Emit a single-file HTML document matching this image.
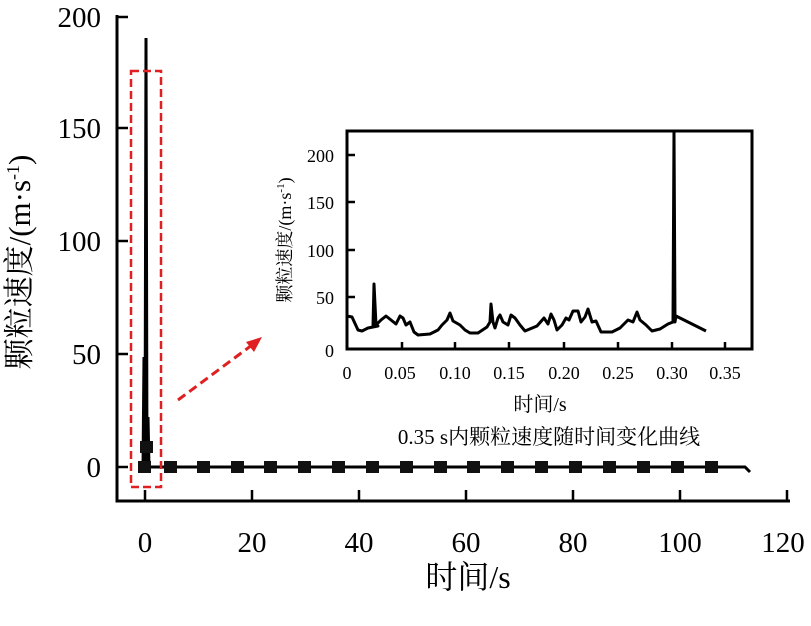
<!DOCTYPE html>
<html><head><meta charset="utf-8"><style>
body{margin:0;background:#fff}
text{font-family:"Liberation Serif","Noto Serif CJK SC",serif;fill:#000}
</style></head><body>
<svg width="811" height="621" viewBox="0 0 811 621" xmlns="http://www.w3.org/2000/svg">
<path d="M117 15 V501 H790" fill="none" stroke="#000" stroke-width="3"/>
<g stroke="#000" stroke-width="2.5">
<path d="M117 17h11M117 128h11M117 241h11M117 354h11M117 467h11"/>
<path d="M145 501v-11M252 501v-11M359 501v-11M466 501v-11M573 501v-11M680 501v-11M787 501v-11"/>
</g>
<g font-size="29" text-anchor="end">
<text x="101" y="27">200</text><text x="101" y="138">150</text><text x="101" y="251">100</text><text x="101" y="364">50</text><text x="101" y="477">0</text>
</g>
<g font-size="29" text-anchor="middle">
<text x="145" y="552">0</text><text x="252" y="552">20</text><text x="359" y="552">40</text><text x="466" y="552">60</text><text x="573" y="552">80</text><text x="680" y="552">100</text><text x="783" y="552">120</text>
</g>
<text x="468" y="588" font-size="32" text-anchor="middle">时间/s</text>
<text transform="translate(30,262) rotate(-90)" font-size="31" text-anchor="middle">颗粒速度/(m·s<tspan font-size="18" dy="-11">-1</tspan><tspan dy="11">)</tspan></text>
<path d="M140 467 L143 467 L144 357 L145 467 L146 38 L147 467 L148 417 L149 467 L745 467 L750 472" fill="none" stroke="#000" stroke-width="3"/>
<g fill="#111">
<rect x="140" y="441" width="13" height="12"/><rect x="138" y="461" width="13" height="12"/>
<rect x="164" y="461" width="13" height="12"/><rect x="197" y="461" width="13" height="12"/><rect x="231" y="461" width="13" height="12"/><rect x="264" y="461" width="13" height="12"/><rect x="298" y="461" width="13" height="12"/><rect x="332" y="461" width="13" height="12"/><rect x="366" y="461" width="13" height="12"/><rect x="400" y="461" width="13" height="12"/><rect x="434" y="461" width="13" height="12"/><rect x="467" y="461" width="13" height="12"/><rect x="501" y="461" width="13" height="12"/><rect x="535" y="461" width="13" height="12"/><rect x="569" y="461" width="13" height="12"/><rect x="603" y="461" width="13" height="12"/><rect x="637" y="461" width="13" height="12"/><rect x="671" y="461" width="13" height="12"/><rect x="705" y="461" width="13" height="12"/>
</g>
<rect x="131" y="71" width="30" height="416" fill="none" stroke="#e02020" stroke-width="2.5" stroke-dasharray="8,4"/>
<path d="M178 400 L252 345" stroke="#e02020" stroke-width="3" stroke-dasharray="9,5"/>
<path d="M262 337 L246 342 L254 352 Z" fill="#e02020"/>
<rect x="347" y="131" width="405" height="218" fill="#fff" stroke="#000" stroke-width="3"/>
<g stroke="#000" stroke-width="2.5">
<path d="M347 155h8M347 202h8M347 250h8M347 297h8"/>
<path d="M402 349v-7M455 349v-7M509 349v-7M564 349v-7M618 349v-7M672 349v-7M725 349v-7"/>
</g>
<g font-size="18" text-anchor="end">
<text x="334" y="162">200</text><text x="334" y="209">150</text><text x="334" y="257">100</text><text x="334" y="304">50</text><text x="334" y="357">0</text>
</g>
<g font-size="18" text-anchor="middle">
<text x="347" y="379">0</text><text x="400" y="379">0.05</text><text x="455" y="379">0.10</text><text x="509" y="379">0.15</text><text x="564" y="379">0.20</text><text x="618" y="379">0.25</text><text x="672" y="379">0.30</text><text x="725" y="379">0.35</text>
</g>
<text x="540" y="411" font-size="20" text-anchor="middle">时间/s</text>
<text x="549" y="444" font-size="21" text-anchor="middle">0.35 s内颗粒速度随时间变化曲线</text>
<text transform="translate(291,240) rotate(-90)" font-size="18" text-anchor="middle" fill="#333">颗粒速度/(m·s<tspan font-size="11" dy="-7">-1</tspan><tspan dy="7">)</tspan></text>
<path d="M347 316 L352 317 L358 330 L362 331 L368 328 L378 326 L373 326 L374 284 L376 325 L381 320 L386 316 L391 320 L396 324 L400 316 L403 318 L406 325 L410 322 L414 332 L418 335 L430 334 L438 330 L442 325 L447 320 L450 313 L453 321 L460 325 L465 330 L470 333 L478 333 L487 327 L490 322 L491 304 L493 322 L495 328 L498 318 L500 315 L503 322 L508 325 L511 315 L515 318 L520 325 L525 331 L537 326 L544 318 L548 324 L551 314 L554 320 L557 330 L562 325 L566 318 L569 320 L573 311 L578 311 L581 322 L585 317 L588 309 L592 322 L596 321 L601 332 L612 332 L620 328 L628 320 L633 322 L637 312 L640 320 L646 325 L652 331 L660 329 L668 324 L673 322 L674 131 L675 322 L676 316 L680 318 L706 331" fill="none" stroke="#000" stroke-width="3" stroke-linejoin="round"/>
</svg>
</body></html>
